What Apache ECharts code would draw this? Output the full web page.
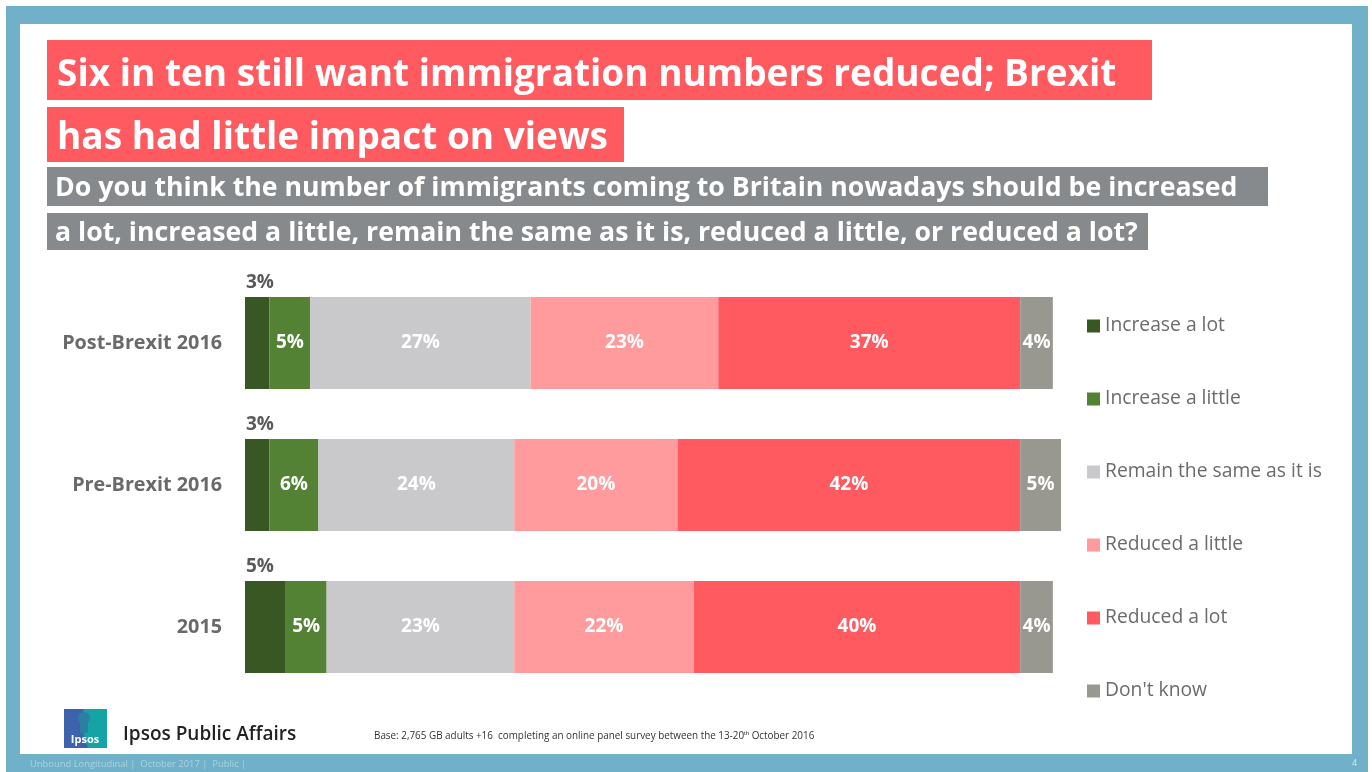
<!DOCTYPE html>
<html>
<head>
<meta charset="utf-8">
<title>Immigration numbers</title>
<script src="https://cdn.jsdelivr.net/npm/echarts@6/dist/echarts.min.js"></script>
<style>
  html, body { margin: 0; padding: 0; background: #ffffff; }
  #chart { width: 1372px; height: 772px; }
</style>
</head>
<body>
<div id="chart"></div>
<script>
// Survey waves (top to bottom)
const categories = ['Post-Brexit 2016', 'Pre-Brexit 2016', '2015'];

// Answer options, in stacking order
const answerNames = ['Increase a lot', 'Increase a little', 'Remain the same as it is',
                     'Reduced a little', 'Reduced a lot', "Don't know"];

// Share of respondents (%) per wave
const increaseALot    = [3, 3, 5];
const increaseALittle = [5, 6, 5];
const remainSame      = [27, 24, 23];
const reducedALittle  = [23, 20, 22];
const reducedALot     = [37, 42, 40];
const dontKnow        = [4, 5, 4];

const answerValues = [increaseALot, increaseALittle, remainSame, reducedALittle, reducedALot, dontKnow];
const answerColors = ['#385723', '#548235', '#c9c9cb', '#ff9a9d', '#ff5a5f', '#989890'];

const FONT = '"Open Sans", "Noto Sans", sans-serif';

const series = answerNames.map((name, i) => {
  const first = i === 0;
  return {
    name: name,
    type: 'bar',
    stack: 'total',
    barWidth: 92,
    data: answerValues[i],
    itemStyle: { color: answerColors[i] },
    emphasis: { disabled: true },
    label: first ? {
      show: true,
      position: [1, -5],
      align: 'left',
      verticalAlign: 'bottom',
      formatter: '{c}%',
      color: '#595959',
      fontFamily: FONT,
      fontWeight: 'bold',
      fontSize: 19
    } : {
      show: true,
      position: 'inside',
      formatter: '{c}%',
      color: '#ffffff',
      fontFamily: FONT,
      fontWeight: 'bold',
      fontSize: 19
    }
  };
});

const chart = echarts.init(document.getElementById('chart'), null, { renderer: 'canvas' });

chart.setOption({
  animation: false,
  backgroundColor: '#ffffff',
  textStyle: { fontFamily: FONT },
  grid: { left: 245, right: 311, top: 272, bottom: 74, containLabel: false },
  xAxis: {
    type: 'value',
    min: 0,
    max: 100,
    show: false
  },
  yAxis: {
    type: 'category',
    data: categories,
    inverse: true,
    axisLine: { show: false },
    axisTick: { show: false },
    axisLabel: {
      margin: 23,
      color: '#6a6a6a',
      fontFamily: FONT,
      fontWeight: 'bold',
      fontSize: 19.8
    }
  },
  legend: {
    orient: 'vertical',
    left: 1087,
    top: 315,
    padding: 0,
    itemWidth: 13,
    itemHeight: 13,
    itemGap: 51,
    icon: 'rect',
    selectedMode: false,
    data: answerNames,
    textStyle: {
      color: '#6b6b6b',
      fontFamily: FONT,
      fontSize: 19.3,
      lineHeight: 22,
      padding: [0, 0, 0, 0]
    }
  },
  graphic: [
    // blue frame and white slide panel
    { type: 'rect', z: -10, shape: { x: 6, y: 6, width: 1362, height: 766 }, style: { fill: '#70b1c9' } },
    { type: 'rect', z: -9, shape: { x: 20, y: 24, width: 1332, height: 730 }, style: { fill: '#ffffff' } },

    // headline boxes
    { type: 'rect', z: -8, shape: { x: 47, y: 40, width: 1105, height: 60 }, style: { fill: '#ff5a5f' } },
    { type: 'rect', z: -8, shape: { x: 47, y: 107, width: 577, height: 55 }, style: { fill: '#ff5a5f' } },
    { type: 'rect', z: -8, shape: { x: 47, y: 167, width: 1221, height: 39 }, style: { fill: '#878a8d' } },
    { type: 'rect', z: -8, shape: { x: 47, y: 213, width: 1101, height: 37 }, style: { fill: '#878a8d' } },
    { type: 'text', z: 5, style: { x: 57, y: 75, text: 'Six in ten still want immigration numbers reduced; Brexit',
      fill: '#ffffff', font: 'bold 37px ' + FONT, textVerticalAlign: 'middle' } },
    { type: 'text', z: 5, style: { x: 57, y: 138, text: 'has had little impact on views',
      fill: '#ffffff', font: 'bold 37px ' + FONT, textVerticalAlign: 'middle' } },
    { type: 'text', z: 5, style: { x: 55, y: 188, text: 'Do you think the number of immigrants coming to Britain nowadays should be increased',
      fill: '#ffffff', font: 'bold 26.7px ' + FONT, textVerticalAlign: 'middle' } },
    { type: 'text', z: 5, style: { x: 55, y: 233, text: 'a lot, increased a little, remain the same as it is, reduced a little, or reduced a lot?',
      fill: '#ffffff', font: 'bold 26.7px ' + FONT, textVerticalAlign: 'middle' } },

    // logo
    { type: 'rect', z: 5, shape: { x: 64, y: 709, width: 43, height: 39 }, style: { fill: '#14a4a6' } },
    { type: 'polygon', z: 5, shape: { points: [[64, 709], [84, 709], [80, 722], [84, 735], [88, 748], [64, 748]] },
      style: { fill: '#3f62ad' } },
    { type: 'circle', z: 6, shape: { cx: 84, cy: 718, r: 6 }, style: { fill: '#2c7fa0' } },
    { type: 'rect', z: 6, shape: { x: 80, y: 721, width: 8, height: 12 }, style: { fill: '#2c7fa0' } },
    { type: 'text', z: 7, style: { x: 85, y: 740, text: 'Ipsos', fill: '#ffffff',
      font: 'bold 11px ' + FONT, textAlign: 'center', textVerticalAlign: 'middle' } },
    { type: 'text', z: 5, style: { x: 123, y: 735, text: 'Ipsos Public Affairs', fill: '#222222',
      font: '600 19px ' + FONT, textVerticalAlign: 'middle' } },
    { type: 'text', z: 5, style: { x: 374, y: 736,
      rich: { sup: { fontSize: 6, verticalAlign: 'top', padding: [0, 0, 6, 0], fill: '#333333' } },
      text: 'Base: 2,765 GB adults +16  completing an online panel survey between the 13-20{sup|th} October 2016',
      fill: '#333333', font: '9.9px ' + FONT, textVerticalAlign: 'middle' } },

    // footer
    { type: 'text', z: 5, style: { x: 30, y: 764, text: 'Unbound Longitudinal |  October 2017 |  Public |',
      fill: '#a9d2e0', font: '9.4px ' + FONT, textVerticalAlign: 'middle' } },
    { type: 'text', z: 5, style: { x: 1352, y: 763, text: '4',
      fill: '#d6ebf2', font: '9px ' + FONT, textVerticalAlign: 'middle' } }
  ],
  series: series
});
</script>
</body>
</html>
